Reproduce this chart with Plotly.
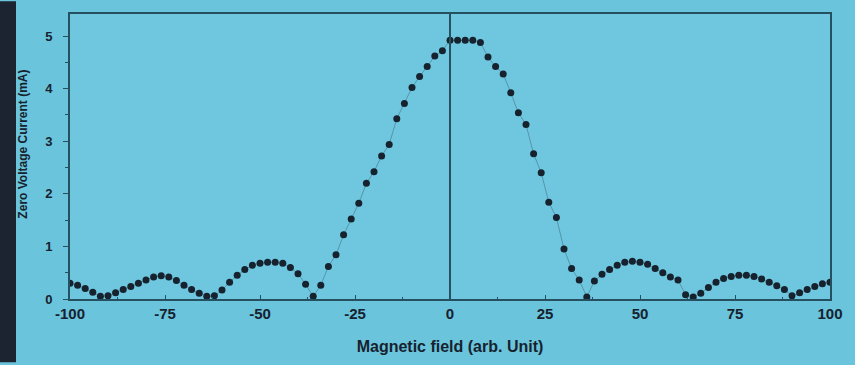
import plotly.graph_objects as go

# Magnetic field (arb. unit), sampled every 2 units
field = list(range(-100, 101, 2))
# Zero voltage current (mA)
current = [
    0.30, 0.26, 0.20, 0.13, 0.05, 0.06, 0.12, 0.18, 0.24, 0.30,   # -100 .. -82
    0.36, 0.42, 0.44, 0.42, 0.35, 0.26, 0.18, 0.11, 0.05, 0.06,   # -80 .. -62
    0.17, 0.32, 0.45, 0.56, 0.64, 0.68, 0.70, 0.70, 0.68, 0.60,   # -60 .. -42
    0.48, 0.28, 0.05, 0.26, 0.62, 0.84, 1.22, 1.52, 1.82, 2.20,   # -40 .. -22
    2.42, 2.72, 2.94, 3.43, 3.72, 4.02, 4.23, 4.42, 4.62, 4.72,   # -20 .. -2
    4.92,                                                         # 0
    4.92, 4.92, 4.92, 4.88, 4.60, 4.42, 4.28, 3.92, 3.54, 3.32,   # 2 .. 20
    2.76, 2.40, 1.84, 1.55, 0.95, 0.58, 0.36, 0.04, 0.34, 0.47,   # 22 .. 40
    0.56, 0.64, 0.70, 0.72, 0.70, 0.66, 0.58, 0.50, 0.42, 0.36,   # 42 .. 60
    0.08, 0.04, 0.11, 0.22, 0.32, 0.39, 0.43, 0.45, 0.45, 0.43,   # 62 .. 80
    0.38, 0.32, 0.25, 0.18, 0.06, 0.12, 0.18, 0.24, 0.29, 0.32,   # 82 .. 100
]
x_ticks = [-100, -75, -50, -25, 0, 25, 50, 75, 100]
y_ticks = [0, 1, 2, 3, 4, 5]

ink = "#16222e"
axis_col = "#24505f"
font_fam = "Liberation Sans, Arial, sans-serif"

fig = go.Figure()
fig.add_trace(go.Scatter(
    x=field, y=current, mode="lines+markers",
    line=dict(color="rgba(22,34,46,0.3)", width=1),
    marker=dict(color=ink, size=7, symbol="circle"),
    showlegend=False,
))

fig.update_layout(
    width=855, height=365,
    margin=dict(l=70, r=25, t=13, b=64),
    paper_bgcolor="#6ac4dc",
    plot_bgcolor="#6fc7df",
    font=dict(family=font_fam, color=ink),
    xaxis=dict(
        range=[-100, 100], tickvals=x_ticks, ticktext=[str(v) for v in x_ticks],
        showgrid=False, zeroline=False, showline=True, mirror=True,
        linecolor=axis_col, linewidth=2,
        ticks="inside", ticklen=4, tickcolor=axis_col,
        minor=dict(dtick=12.5, ticks="inside", ticklen=2, tickcolor=axis_col),
        tickfont=dict(size=15, weight="bold", color=ink),
        title=dict(text="Magnetic field (arb. Unit)", standoff=20,
                   font=dict(size=16, weight="bold", color=ink)),
    ),
    yaxis=dict(
        range=[0, 5.42], tickvals=y_ticks, ticktext=[str(v) for v in y_ticks],
        showgrid=False, zeroline=False, showline=True, mirror=True,
        linecolor=axis_col, linewidth=2,
        ticks="outside", ticklen=5, tickcolor=axis_col,
        ticklabelstandoff=8,
        minor=dict(dtick=0.5, ticks="outside", ticklen=3, tickcolor=axis_col),
        tickfont=dict(size=13, weight="bold", color=ink),
    ),
    shapes=[
        dict(type="line", xref="x", yref="paper", x0=0, x1=0, y0=0, y1=1,
             line=dict(color=axis_col, width=2)),
        dict(type="rect", xref="paper", yref="paper",
             x0=-70 / 760, x1=-54 / 760, y0=-64 / 288, y1=1 + 13 / 288,
             fillcolor="#1b2430", line=dict(width=0), layer="below"),
    ],
    annotations=[
        dict(text="Zero Voltage Current (mA)", textangle=-90,
             xref="paper", yref="paper", x=-47 / 760, y=(301 - 145) / 288,
             xanchor="center", yanchor="middle", showarrow=False,
             font=dict(size=12, weight="bold", color=ink)),
    ],
)

fig.write_html("out.html")
